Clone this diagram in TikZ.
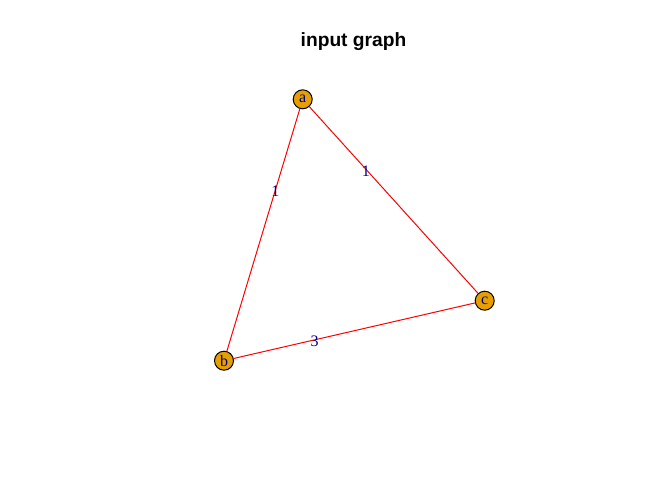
\documentclass[tikz,border=0pt]{standalone}
\usepackage{fontspec}
\setmainfont{Liberation Serif}
\newfontfamily\titlefont{Liberation Sans}
\definecolor{vertexorange}{HTML}{E69F00}
\definecolor{labelblue}{HTML}{00008B}
\tikzset{
  vertex/.style={circle, draw=black, line width=1pt, fill=vertexorange,
    minimum size=19pt, inner sep=0pt, text=labelblue, font=\fontsize{16}{16}\selectfont},
  edge/.style={draw=red, line width=1pt},
  weight/.style={text=labelblue, inner sep=0pt, yshift=-1.5pt, font=\fontsize{16}{16}\selectfont}
}
\begin{document}
\begin{tikzpicture}[x=1pt, y=-1pt]

% paper size:
\pgfmathsetmacro\pwidth{672};
\pgfmathsetmacro\pheight{480};
\useasboundingbox (0,0) rectangle (\pwidth,\pheight);

% title
\node[anchor=base, font=\titlefont\bfseries\fontsize{19.2}{19.2}\selectfont] (title) at (353.5,46) {input graph};

% vertices
\node[vertex] (a) at (302.7,99.3) {a};
\node[vertex] (b) at (224,360.7) {b};
\node[vertex] (c) at (484.7,300.7) {c};

% edges with weights
\path[edge] (a) -- node[weight, pos=0.335] {1} (b);
\path[edge] (a) -- node[weight, pos=0.335] {1} (c);
\path[edge] (b) -- node[weight, pos=0.335] {3} (c);

\end{tikzpicture}
\end{document}
